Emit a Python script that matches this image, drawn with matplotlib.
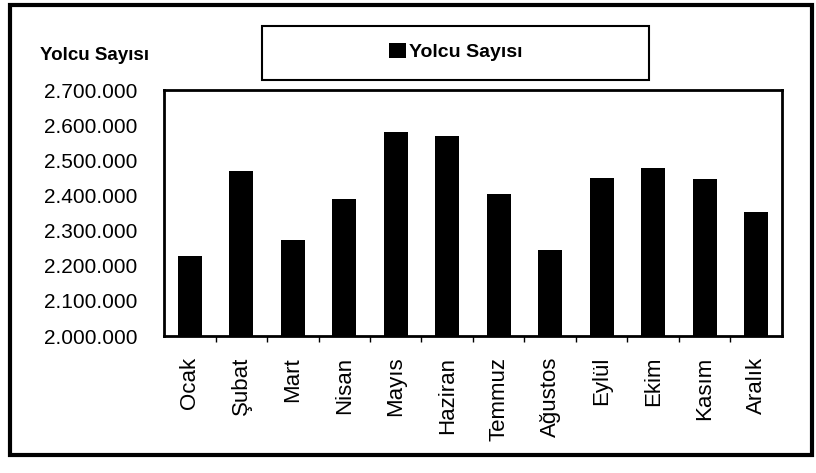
import matplotlib
matplotlib.use('Agg')
import matplotlib.pyplot as plt
from matplotlib.patches import Rectangle
from matplotlib.ticker import FuncFormatter, FixedLocator

plt.rcParams['font.family'] = ['Liberation Sans', 'DejaVu Sans']

# data
months = ['Ocak', 'Şubat', 'Mart', 'Nisan', 'Mayıs', 'Haziran',
          'Temmuz', 'Ağustos', 'Eylül', 'Ekim', 'Kasım', 'Aralık']
passengers = [2229000, 2470000, 2272000, 2391000, 2581000, 2570000,
              2405000, 2245000, 2450000, 2477000, 2446000, 2352000]
series_name = 'Yolcu Sayısı'

W, H = 816, 473
fig = plt.figure(figsize=(W / 100, H / 100), dpi=100)

def fx(px):
    return px / W

def fy(py):
    return 1 - py / H

# main axes (pixel box 164..782 x 90..336)
ax = fig.add_axes([fx(164), fy(336), fx(782 - 164), (336 - 90) / H])
x = range(len(months))
ax.bar(x, passengers, width=0.47, color='black')
ax.set_xlim(-0.5, len(months) - 0.5)
ax.set_ylim(2000000, 2700000)
ax.set_yticks(range(2000000, 2700001, 100000))
ax.yaxis.set_major_formatter(FuncFormatter(lambda v, p: f'{v:,.0f}'.replace(',', '.')))
ax.tick_params(axis='y', length=0, pad=19, labelsize=15)

ax.set_xticks(list(x))
ax.set_xticklabels(months, rotation=90, fontsize=16)
ax.tick_params(axis='x', length=0, pad=15)
ax.xaxis.set_minor_locator(FixedLocator([i + 0.5 for i in range(len(months) - 1)]))
ax.tick_params(axis='x', which='minor', length=4, width=1, direction='out')

for s in ax.spines.values():
    s.set_linewidth(2)

# y title
fig.text(fx(40), fy(55), series_name, fontsize=13.5, fontweight='bold',
         ha='left', va='center')

# legend box
fig.patches.append(Rectangle((fx(262), fy(80)), fx(649 - 262), (80 - 26) / H,
                             transform=fig.transFigure, fill=False,
                             edgecolor='black', linewidth=1.5))
handle = Rectangle((0, 0), 1, 1, facecolor='black')
fig.legend([handle], [series_name], loc='center left',
           bbox_to_anchor=(fx(389), fy(52)), frameon=False,
           prop={'weight': 'bold', 'size': 14},
           handlelength=0.85, handleheight=0.85, handletextpad=0.2,
           borderpad=0, borderaxespad=0)

# outer border
fig.patches.append(Rectangle((fx(10), fy(455)), fx(812 - 10), (455 - 5) / H,
                             transform=fig.transFigure, fill=False,
                             edgecolor='black', linewidth=3))

fig.savefig('out.png', dpi=100)
